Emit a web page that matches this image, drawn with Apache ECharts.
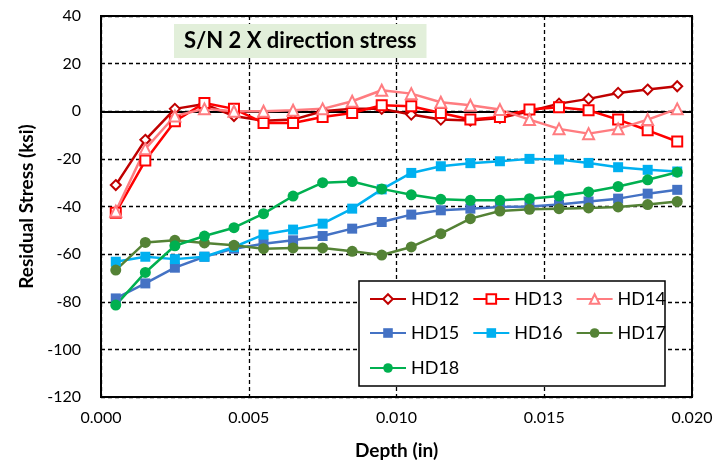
<!DOCTYPE html>
<html>
<head>
<meta charset="utf-8">
<script src="https://cdn.jsdelivr.net/npm/echarts@6/dist/echarts.min.js"></script>
<style>
  html, body { margin: 0; padding: 0; background: #fff; }
  #chart { width: 719px; height: 470px; }
</style>
</head>
<body>
<div id="chart"></div>
<script>
// depth points (in)
var depth = [0.0005, 0.0015, 0.0025, 0.0035, 0.0045, 0.0055, 0.0065, 0.0075, 0.0085, 0.0095,
             0.0105, 0.0115, 0.0125, 0.0135, 0.0145, 0.0155, 0.0165, 0.0175, 0.0185, 0.0195];

// residual stress (ksi)
var hd12 = [-31, -12, 1, 3, -2, -4, -3.5, 0, 1, 1, -1.4, -3.5, -3.9, -2.8, 0, 3.2, 5.2, 7.7, 9.1, 10.5];
var hd13 = [-42.6, -20.7, -4.2, 3.5, 1, -4.9, -4.9, -2.4, -0.7, 2.5, 2.1, -0.7, -3.5, -2.4, 0.7, 1.7, 0.4, -3.5, -8, -12.7];
var hd14 = [-42, -15.8, -2, 1, 0, 0, 0.4, 1, 4.2, 8.8, 7.4, 3.8, 2.5, 0.7, -3.5, -7.4, -9.4, -7.4, -3.5, 1];
var hd15 = [-78.6, -72.3, -65.7, -61.1, -57.7, -55.6, -54.2, -52.4, -49.3, -46.5, -43.4, -41.6, -40.9, -40.2, -40, -39.2, -37.9, -36.7, -34.6, -33];
var hd16 = [-63.2, -61.1, -62.1, -61.1, -57, -51.8, -49.7, -47.2, -40.9, -32.8, -25.9, -23.1, -21.8, -21, -20, -20.3, -21.7, -23.5, -24.6, -25.3];
var hd17 = [-66.7, -55.1, -54.2, -55.3, -56.3, -57.7, -57.4, -57.4, -58.8, -60.4, -57, -51.4, -45.1, -41.9, -41.2, -40.9, -40.6, -40.2, -39.2, -37.9];
var hd18 = [-81.4, -67.7, -56.5, -52.4, -48.9, -43, -35.6, -30, -29.5, -32.6, -35.1, -37, -37.4, -37.4, -36.7, -35.6, -33.9, -31.6, -28.8, -25.6];

var names = ['HD12', 'HD13', 'HD14', 'HD15', 'HD16', 'HD17', 'HD18'];
var values = [hd12, hd13, hd14, hd15, hd16, hd17, hd18];
var colors = ['#C00000', '#FF0000', '#FF7C80', '#4472C4', '#00B0F0', '#548235', '#00B050'];
var symbols = ['emptyDiamond', 'emptyRect', 'emptyTriangle', 'rect', 'rect', 'circle', 'circle'];
var sizes = [10, 10, 11, 10, 10, 11, 11];

var font = 'Lato, "Open Sans", sans-serif';

function pairs(ys) {
    var out = [];
    for (var i = 0; i < depth.length; i++) {
        out.push([depth[i], ys[i]]);
    }
    return out;
}

var seriesList = [];
for (var k = 0; k < names.length; k++) {
    seriesList.push({
        type: 'line',
        name: names[k],
        data: pairs(values[k]),
        symbol: symbols[k],
        symbolSize: sizes[k],
        color: colors[k],
        lineStyle: { width: 2.5, color: colors[k] },
        itemStyle: { color: colors[k], borderWidth: 2 },
        emphasis: { disabled: true },
        animation: false
    });
}
// solid zero line
seriesList[0].markLine = {
    silent: true,
    symbol: 'none',
    label: { show: false },
    lineStyle: { color: '#000', width: 2, type: 'solid' },
    data: [{ yAxis: 0 }],
    z: 1
};

// one legend per row, 3 columns like the original
function legendRow(items, top) {
    return {
        data: items,
        left: 369,
        top: top,
        orient: 'horizontal',
        padding: 0,
        z: 10,
        itemWidth: 36,
        itemHeight: 12,
        itemGap: 13,
        textStyle: { fontFamily: font, fontSize: 18, color: '#000', width: 45, lineHeight: 18 }
    };
}

var chart = echarts.init(document.getElementById('chart'));
chart.setOption({
    backgroundColor: '#fff',
    animation: false,
    title: {
        text: 'S/N 2 X direction stress',
        left: 174,
        top: 24,
        padding: [6, 10, 6, 10],
        backgroundColor: '#E2EFDA',
        textStyle: { fontFamily: font, fontWeight: 'bold', fontSize: 22, color: '#000' }
    },
    grid: {
        left: 101, right: 27, top: 16, bottom: 73,
        show: true, borderColor: '#000', borderWidth: 2, backgroundColor: 'transparent'
    },
    graphic: [{
        type: 'rect',
        shape: { x: 359, y: 281, width: 306, height: 105 },
        style: { fill: '#fff', stroke: '#000', lineWidth: 1.5 },
        z: 5
    }],
    legend: [
        legendRow(['HD12', 'HD13', 'HD14'], 290),
        legendRow(['HD15', 'HD16', 'HD17'], 324),
        legendRow(['HD18'], 359)
    ],
    xAxis: {
        type: 'value',
        min: 0, max: 0.02, interval: 0.005,
        name: 'Depth (in)',
        nameLocation: 'middle',
        nameGap: 44,
        nameTextStyle: { fontFamily: font, fontWeight: 'bold', fontSize: 19, color: '#000' },
        axisLine: { show: true, lineStyle: { color: '#000', width: 2 } },
        axisTick: { show: false },
        axisLabel: {
            fontFamily: font, fontSize: 16, color: '#000', margin: 13,
            formatter: function (v) { return v.toFixed(3); }
        },
        splitLine: { show: true, lineStyle: { color: '#000', type: [4, 3], width: 1.3 } }
    },
    yAxis: {
        type: 'value',
        min: -120, max: 40, interval: 20,
        name: 'Residual Stress (ksi)',
        nameLocation: 'middle',
        nameGap: 62,
        nameTextStyle: { fontFamily: font, fontWeight: 'bold', fontSize: 19, color: '#000' },
        axisLine: { show: true, onZero: false, lineStyle: { color: '#000', width: 2 } },
        axisTick: { show: false },
        axisLabel: { fontFamily: font, fontSize: 16, color: '#000', margin: 20 },
        splitLine: { show: true, lineStyle: { color: '#000', type: [4, 3], width: 1.3 } }
    },
    series: seriesList
});
</script>
</body>
</html>
